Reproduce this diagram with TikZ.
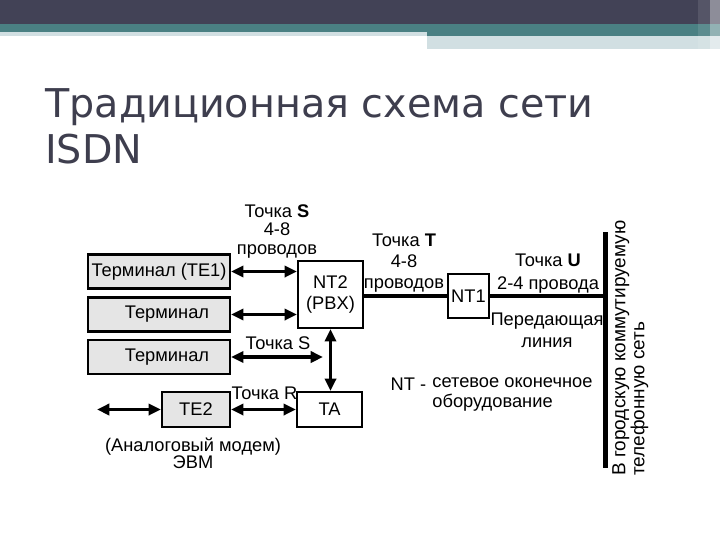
\documentclass[tikz,border=0pt]{standalone}
\usepackage{fontspec}
\setmainfont{Liberation Sans}
\newfontfamily\titlefont{DejaVu Sans}
\usetikzlibrary{positioning}
\usetikzlibrary{arrows.meta}
\tikzset{>={Triangle[width=2.8mm,length=3.1mm]}}
\definecolor{slatedark}{RGB}{66,66,86}
\definecolor{slateteal}{RGB}{74,128,131}
\definecolor{slatelight}{RGB}{209,223,226}
\definecolor{titlegray}{RGB}{62,62,78}

\begin{document}
\begin{tikzpicture}[x=0.025cm, y=-0.025cm, termbox/.style={draw=black, fill=black!10, line width=1.5pt, minimum width=3.55cm, minimum height=0.85cm, inner sep=1pt, font=\fontsize{13}{14}\selectfont}, unitbox/.style={draw=black, fill=white, line width=1.5pt, inner sep=1pt, align=center, font=\fontsize{13}{15}\selectfont}, lbl/.style={draw=none, inner sep=1pt, align=center, font=\fontsize{13}{13}\selectfont}, titletext/.style={inner sep=0pt, text=titlegray, font=\titlefont\fontsize{28.2}{34}\selectfont}, link/.style={<->, line width=2.3pt}, trunk/.style={line width=3.2pt}]
    \useasboundingbox (0,0) rectangle (720,540);

    %Header
    \fill[slatedark] (0,0) rectangle (720,24);
    \fill[slateteal] (0,24) rectangle (720,32);
    \fill[slateteal] (427,32) rectangle (720,36);
    \fill[slatelight] (0,32) rectangle (427,36);
    \fill[slatelight] (427,36) rectangle (720,49);
    \fill[white, opacity=0.1] (698,0) rectangle (710,49);
    \fill[white, opacity=0.4] (710,0) rectangle (720,49);

    %Title
    \node[titletext, anchor=base west](title1) at (45,117){Традиционная схема сети};
    \node[titletext, anchor=base west](title2) at (45,163){ISDN};

    %Nodes
    \node[termbox](te1) at (159,271.5){Терминал (TE1)};
    \node[termbox](term2) at (159,314.5){\hspace*{0.4cm}Терминал};
    \node[termbox](term3) at (159,357){\hspace*{0.4cm}Терминал};
    \node[termbox, minimum width=1.7cm, minimum height=0.875cm](te2) at (196,409.5){TE2};
    \node[unitbox, minimum width=1.625cm, minimum height=1.675cm](nt2) at (330.5,294.5){NT2\\(PBX)};
    \node[unitbox, minimum width=1.625cm, minimum height=0.875cm](ta) at (329.5,409.5){TA};
    \node[unitbox, minimum width=1.025cm, minimum height=1.1cm](nt1) at (468.5,296){NT1};
    \node[fill=black, inner sep=0pt, minimum width=0.13cm, minimum height=5.9cm](bar) at (605.5,350){};
    \coordinate (sEnd) at (323,357);
    \coordinate (modem) at (97,409.5);

    %Labels
    \node[lbl](pointS) at (277,231.5){Точка \textbf{S}\\4-8\\проводов};
    \node[lbl, font=\fontsize{13}{15}\selectfont](pointT) at (404,263.5){Точка \textbf{T}\\4-8\\проводов};
    \node[lbl, font=\fontsize{13}{16}\selectfont](pointU) at (548,273.5){Точка \textbf{U}\\2-4 провода};
    \node[lbl, font=\fontsize{13}{16}\selectfont](txline) at (547,330.5){Передающая\\линия};
    \node[lbl](pointS2) at (278,343){Точка S};
    \node[lbl](pointR) at (264.5,393){Точка R};
    \node[lbl, font=\fontsize{13}{12.5}\selectfont](analog) at (193,453.5){(Аналоговый модем)\\ЭВМ};
    \node[lbl, anchor=west](ntdef) at (389,384){NT -};
    \node[lbl, align=left, anchor=north west, font=\fontsize{13}{14}\selectfont](ntdesc) at ([xshift=2pt]ntdef.north east){сетевое оконечное\\оборудование};
    \node[lbl, rotate=90, align=left, anchor=north west, inner sep=0pt, font=\fontsize{13.5}{12}\selectfont](city) at (612,476){В городскую коммутируемую\\телефонную сеть};

    %Lines
    \draw[link] (te1.east) -- (te1.east -| nt2.west);
    \draw[link] (term2.east) -- (term2.east -| nt2.west);
    \draw[link] (term3.east) -- (sEnd);
    \draw[link] (nt2.south) -- (nt2.south |- ta.north);
    \draw[link] (te2.east) -- (ta.west);
    \draw[link] (modem) -- (te2.west);
    \draw[trunk] (nt2.east |- nt1.west) -- (nt1.west);
    \draw[trunk] (nt1.east) -- (nt1.east -| bar.west);

\end{tikzpicture}
\end{document}
